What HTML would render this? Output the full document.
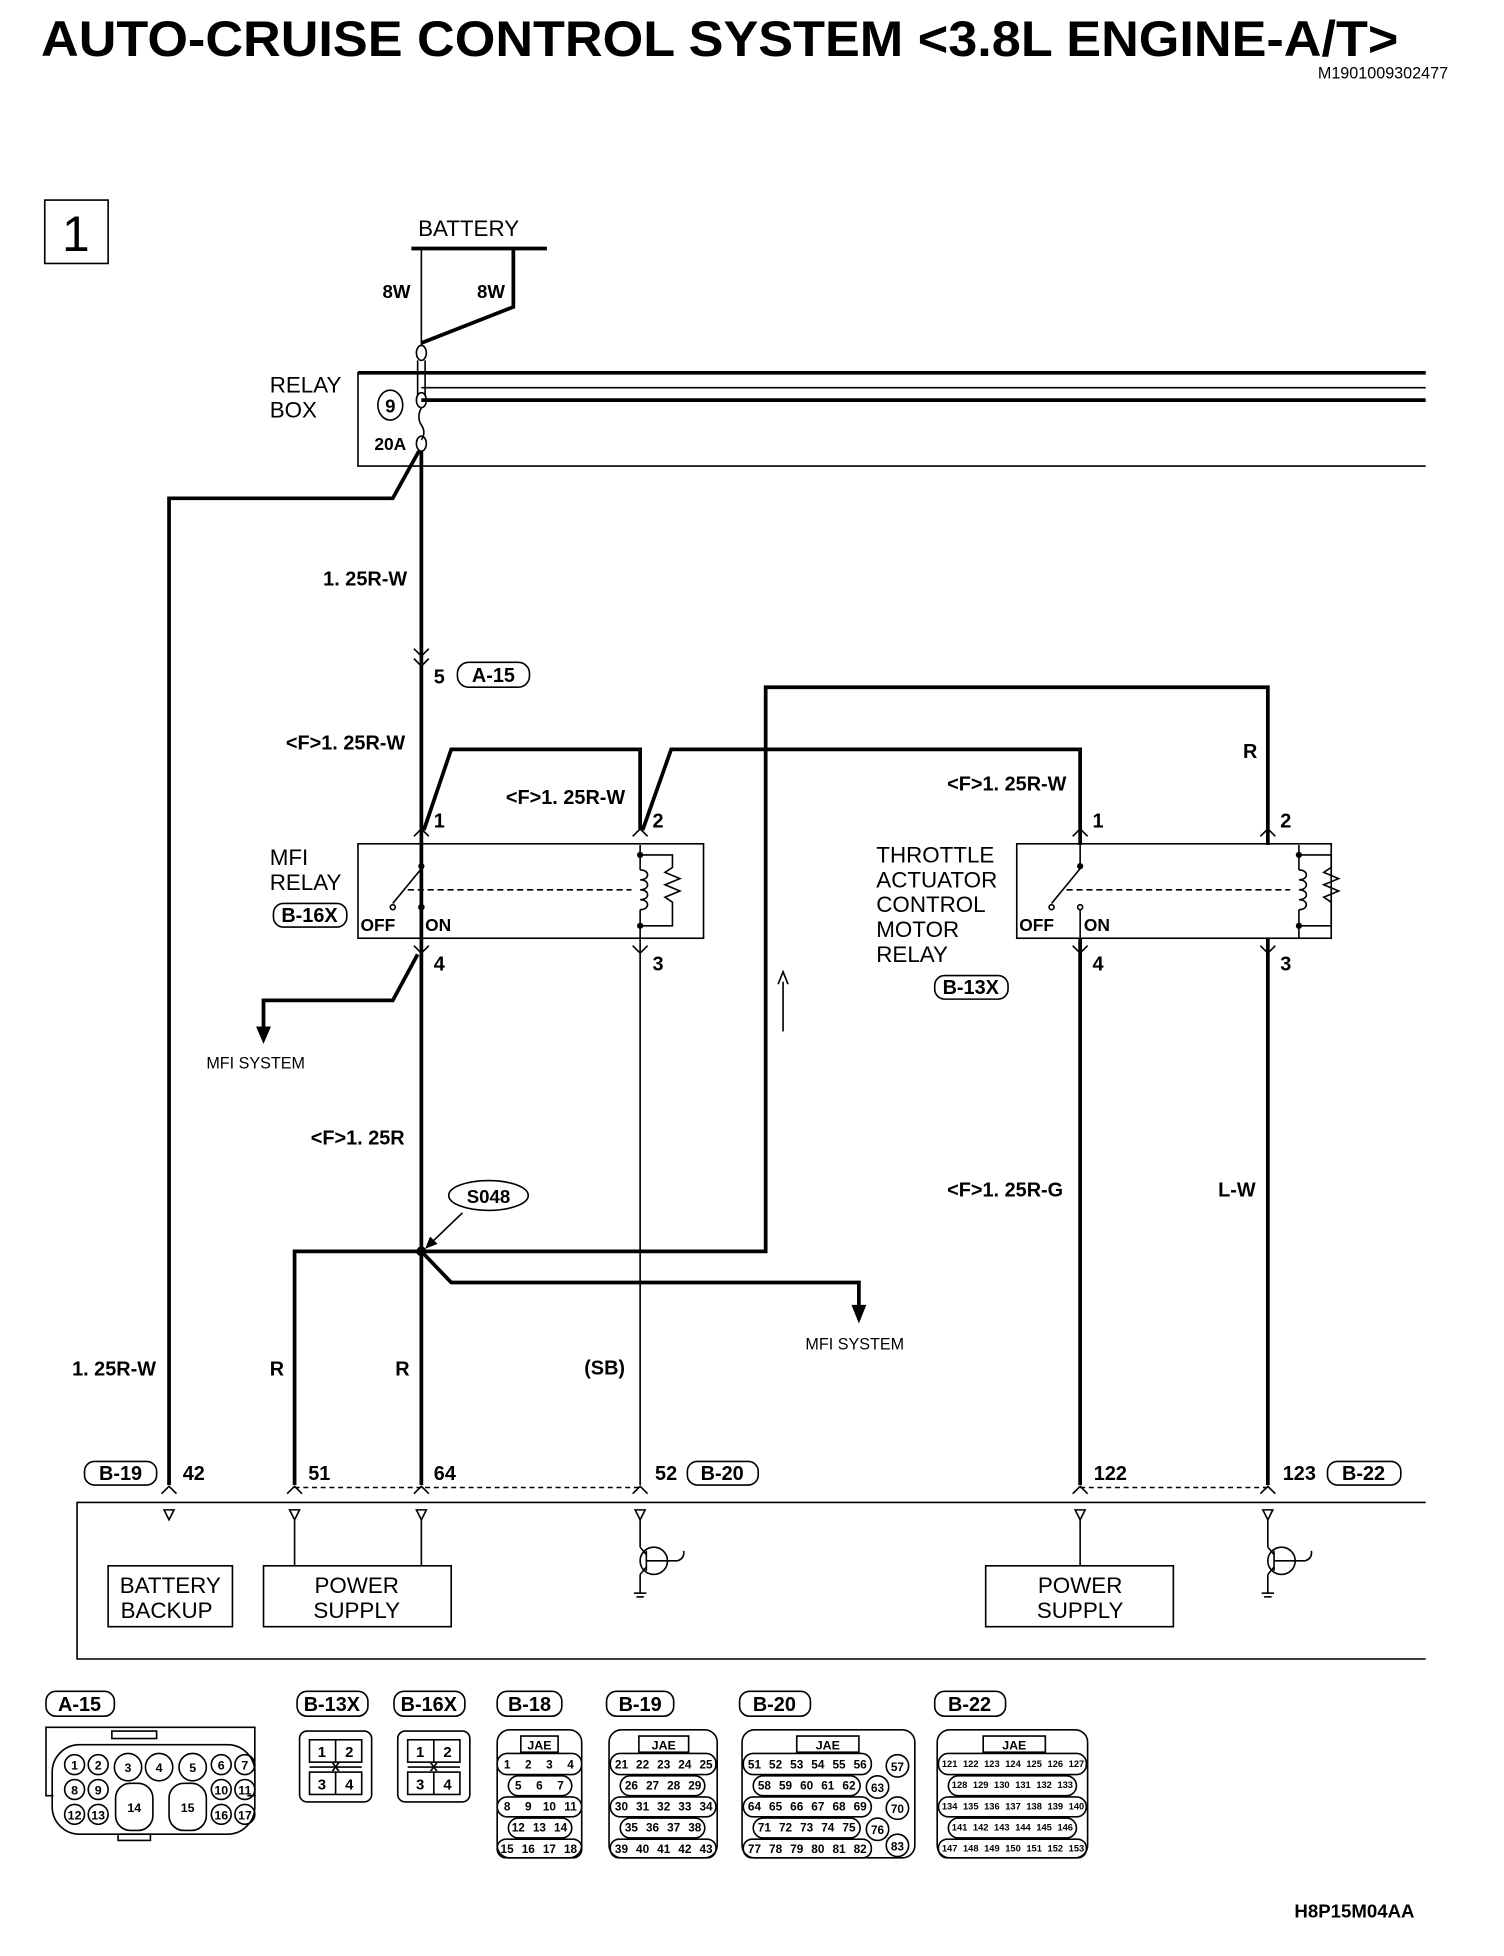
<!DOCTYPE html>
<html><head><meta charset="utf-8">
<style>
html,body{margin:0;padding:0;background:#fff;}
svg{display:block;}
text{font-family:"Liberation Sans Narrow","Liberation Sans",sans-serif;fill:#000;}
.b{font-weight:bold;}
.w{fill:none;stroke:#000;stroke-width:3;}
.t{fill:none;stroke:#000;stroke-width:1.3;}
.p{font-size:10px;font-weight:bold;text-anchor:middle;}
</style></head><body>
<svg width="1504" height="1956" viewBox="0 0 1210 1574" preserveAspectRatio="none" xmlns="http://www.w3.org/2000/svg">
<text x="33" y="45" class="b" style="font-size:40px;font-family:'Liberation Sans',sans-serif" textLength="1092" lengthAdjust="spacingAndGlyphs">AUTO-CRUISE CONTROL SYSTEM &lt;3.8L ENGINE-A/T&gt;</text>
<text x="1165" y="63" style="font-size:13px;text-anchor:end">M1901009302477</text>
<rect x="36" y="161" width="51" height="51" class="t" stroke-width="2"/>
<text x="61" y="202" style="font-size:40px;text-anchor:middle;font-family:'Liberation Sans',sans-serif">1</text>

<text x="377" y="190" style="font-size:18px;text-anchor:middle;font-family:'Liberation Sans',sans-serif">BATTERY</text>
<line x1="331" y1="200" x2="440" y2="200" class="w"/>
<polyline points="339,200 339,278" class="t" stroke-width="2"/>
<polyline points="413,200 413,247 339,276" class="w"/>
<text x="319" y="240" class="b p" style="font-size:15px">8W</text>
<text x="395" y="240" class="b p" style="font-size:15px">8W</text>
<polyline points="1147,300 288,300 288,375 1147,375" class="t" stroke-width="2"/>
<line x1="288" y1="300" x2="1147" y2="300" class="w"/>
<line x1="339" y1="312" x2="1147" y2="312" class="t"/>
<line x1="339" y1="322" x2="1147" y2="322" class="w"/>
<ellipse cx="339" cy="284" rx="4" ry="6" class="t" fill="#fff"/>
<line x1="336" y1="290" x2="336" y2="318" class="t"/><line x1="342" y1="290" x2="342" y2="318" class="t"/>
<ellipse cx="339" cy="322" rx="4" ry="6" class="t" fill="#fff"/>
<path d="M339,328 q-4,8 0,14 q4,6 0,12" class="t"/>
<ellipse cx="339" cy="357" rx="4" ry="6" class="t" fill="#fff"/>
<text x="217" y="316" style="font-size:18px;font-family:'Liberation Sans',sans-serif">RELAY</text>
<text x="217" y="336" style="font-size:18px;font-family:'Liberation Sans',sans-serif">BOX</text>
<ellipse cx="314" cy="326" rx="10" ry="12" class="t" stroke-width="2"/>
<text x="314" y="332" class="b p" style="font-size:15px">9</text>
<text x="314" y="362" class="b p" style="font-size:14px">20A</text>
<polyline points="337,363 316,401 136,401 136,1195" class="w"/>
<line x1="339" y1="363" x2="339" y2="1195" class="w"/>
<text x="260" y="471" class="b" style="font-size:16px">1. 25R-W</text>
<path d="M333,522 l6,6 l6,-6 M333,530 l6,6 l6,-6" class="t"/>
<text x="349" y="550" class="b" style="font-size:16px">5</text>
<rect x="368" y="533" width="58" height="20" rx="9" class="t"/>
<text x="397" y="549" class="b p" style="font-size:16px">A-15</text>
<text x="230" y="603" class="b" style="font-size:16px">&lt;F&gt;1. 25R-W</text>
<polyline points="341,668 363,603 515,603 515,668" class="w"/>
<polyline points="517,668 540,603 869,603 869,680" class="w"/>
<text x="407" y="647" class="b" style="font-size:16px">&lt;F&gt;1. 25R-W</text>
<text x="762" y="636" class="b" style="font-size:16px">&lt;F&gt;1. 25R-W</text>
<polyline points="1020,680 1020,553 616,553 616,1007 237,1007 237,1195" class="w"/>
<text x="1000" y="610" class="b" style="font-size:16px">R</text>
<path d="M333,673 l6,-6 l6,6 M509,673 l6,-6 l6,6 M863,673 l6,-6 l6,6 M1014,673 l6,-6 l6,6" class="t"/>
<text x="349" y="666" class="b" style="font-size:16px">1</text>
<text x="525" y="666" class="b" style="font-size:16px">2</text>
<text x="879" y="666" class="b" style="font-size:16px">1</text>
<text x="1030" y="666" class="b" style="font-size:16px">2</text>
<rect x="288" y="679" width="278" height="76" class="t"/>
<rect x="818" y="679" width="253" height="76" class="t"/>
<g id="rel">
<circle cx="339" cy="697" r="2.5"/>
<line x1="339" y1="697" x2="339" y2="680" class="t"/>
<line x1="316" y1="727" x2="339" y2="699" class="t"/>
<circle cx="316" cy="730" r="2" class="t"/>
<circle cx="339" cy="730" r="2" class="t"/>
<line x1="339" y1="732" x2="339" y2="755" class="t"/>
<line x1="328" y1="716" x2="508" y2="716" class="t" stroke-dasharray="5,3"/>
<circle cx="515" cy="688" r="2.5"/><circle cx="515" cy="745" r="2.5"/>
<line x1="515" y1="680" x2="515" y2="700" class="t"/>
<path d="M515,700 c8,0 8,8 0,8 c8,0 8,8 0,8 c8,0 8,8 0,8 c8,0 8,8 0,8" class="t"/>
<line x1="515" y1="732" x2="515" y2="755" class="t"/>
<polyline points="515,688 541,688 541,698 535,702 547,707 535,712 547,717 535,722 541,726 541,745 515,745" class="t"/>
</g>
<use href="#rel" transform="translate(530,0)"/>
<text x="290" y="749" class="b" style="font-size:14px">OFF</text>
<text x="342" y="749" class="b" style="font-size:14px">ON</text>
<text x="820" y="749" class="b" style="font-size:14px">OFF</text>
<text x="872" y="749" class="b" style="font-size:14px">ON</text>
<text x="217" y="696" style="font-size:18px;font-family:'Liberation Sans',sans-serif">MFI</text>
<text x="217" y="716" style="font-size:18px;font-family:'Liberation Sans',sans-serif">RELAY</text>
<rect x="220" y="727" width="59" height="19" rx="8" class="t"/>
<text x="249" y="742" class="b p" style="font-size:16px">B-16X</text>
<text x="705" y="694" style="font-size:18px;font-family:'Liberation Sans',sans-serif">THROTTLE</text>
<text x="705" y="714" style="font-size:18px;font-family:'Liberation Sans',sans-serif">ACTUATOR</text>
<text x="705" y="734" style="font-size:18px;font-family:'Liberation Sans',sans-serif">CONTROL</text>
<text x="705" y="754" style="font-size:18px;font-family:'Liberation Sans',sans-serif">MOTOR</text>
<text x="705" y="774" style="font-size:18px;font-family:'Liberation Sans',sans-serif">RELAY</text>
<rect x="752" y="785" width="59" height="19" rx="8" class="t"/>
<text x="781" y="800" class="b p" style="font-size:16px">B-13X</text>
<path d="M333,761 l6,6 l6,-6 M509,761 l6,6 l6,-6 M863,761 l6,6 l6,-6 M1014,761 l6,6 l6,-6" class="t"/>
<text x="349" y="781" class="b" style="font-size:16px">4</text>
<text x="525" y="781" class="b" style="font-size:16px">3</text>
<text x="879" y="781" class="b" style="font-size:16px">4</text>
<text x="1030" y="781" class="b" style="font-size:16px">3</text>
<polyline points="336,768 316,805 212,805 212,828" class="w"/>
<polygon points="206,826 218,826 212,840"/>
<text x="166" y="860" style="font-size:13px;font-family:'Liberation Sans',sans-serif">MFI SYSTEM</text>
<line x1="515" y1="755" x2="515" y2="1195" class="t" stroke-width="2"/>
<line x1="869" y1="755" x2="869" y2="1195" class="w"/>
<line x1="1020" y1="755" x2="1020" y2="1195" class="w"/>
<line x1="630" y1="790" x2="630" y2="830" class="t"/>
<path d="M626,792 l4,-10 l4,10" class="t"/>
<text x="250" y="921" class="b" style="font-size:16px">&lt;F&gt;1. 25R</text>
<ellipse cx="393" cy="962" rx="32" ry="12" class="t" stroke-width="2"/>
<text x="393" y="968" class="b p" style="font-size:15px">S048</text>
<line x1="372" y1="976" x2="346" y2="1001" class="t"/>
<polygon points="342,1005 346,995 352,1001"/>
<circle cx="339" cy="1007" r="4"/>
<polyline points="339,1007 363,1032 691,1032 691,1052" class="w"/>
<polygon points="685,1050 697,1050 691,1065"/>
<text x="648" y="1086" style="font-size:13px;font-family:'Liberation Sans',sans-serif">MFI SYSTEM</text>
<text x="762" y="963" class="b" style="font-size:16px">&lt;F&gt;1. 25R-G</text>
<text x="980" y="963" class="b" style="font-size:16px">L-W</text>
<text x="58" y="1107" class="b" style="font-size:16px">1. 25R-W</text>
<text x="217" y="1107" class="b" style="font-size:16px">R</text>
<text x="318" y="1107" class="b" style="font-size:16px">R</text>
<text x="470" y="1106" class="b" style="font-size:16px">(SB)</text>
<rect x="68" y="1176" width="58" height="19" rx="8" class="t"/>
<text x="97" y="1191" class="b p" style="font-size:16px">B-19</text>
<text x="147" y="1191" class="b" style="font-size:16px">42</text>
<text x="248" y="1191" class="b" style="font-size:16px">51</text>
<text x="349" y="1191" class="b" style="font-size:16px">64</text>
<text x="527" y="1191" class="b" style="font-size:16px">52</text>
<rect x="553" y="1176" width="57" height="19" rx="8" class="t"/>
<text x="581" y="1191" class="b p" style="font-size:16px">B-20</text>
<text x="880" y="1191" class="b" style="font-size:16px">122</text>
<text x="1032" y="1191" class="b" style="font-size:16px">123</text>
<rect x="1068" y="1176" width="59" height="19" rx="8" class="t"/>
<text x="1097" y="1191" class="b p" style="font-size:16px">B-22</text>
<line x1="237" y1="1197" x2="515" y2="1197" class="t" stroke-dasharray="4,3"/>
<line x1="869" y1="1197" x2="1020" y2="1197" class="t" stroke-dasharray="4,3"/>
<path d="M130,1202 l6,-6 l6,6 M231,1202 l6,-6 l6,6 M333,1202 l6,-6 l6,6 M509,1202 l6,-6 l6,6 M863,1202 l6,-6 l6,6 M1014,1202 l6,-6 l6,6" class="t"/>
<polyline points="1147,1209 62,1209 62,1335 1147,1335" class="t"/>
<g class="t">
<path d="M132,1215 h8 l-4,8 z M233,1215 h8 l-4,8 z M335,1215 h8 l-4,8 z M511,1215 h8 l-4,8 z M865,1215 h8 l-4,8 z M1016,1215 h8 l-4,8 z"/>
<line x1="237" y1="1223" x2="237" y2="1260"/><line x1="339" y1="1223" x2="339" y2="1260"/><line x1="869" y1="1223" x2="869" y2="1260"/>
<line x1="515" y1="1223" x2="515" y2="1245"/><line x1="1020" y1="1223" x2="1020" y2="1245"/>
</g>
<g id="tr" class="t">
<circle cx="526" cy="1256" r="11"/>
<line x1="520" y1="1248" x2="520" y2="1264"/>
<line x1="515" y1="1245" x2="520" y2="1251"/>
<line x1="520" y1="1261" x2="515" y2="1267"/>
<line x1="515" y1="1267" x2="515" y2="1282"/>
<line x1="510" y1="1282" x2="520" y2="1282"/><line x1="512" y1="1285" x2="518" y2="1285"/>
<line x1="520" y1="1256" x2="545" y2="1256"/>
<path d="M545,1256 q6,-2 5,-8"/>
</g>
<use href="#tr" transform="translate(505,0)"/>
<rect x="87" y="1260" width="100" height="49" class="t"/>
<text x="137" y="1282" style="font-size:18px;text-anchor:middle;font-family:'Liberation Sans',sans-serif">BATTERY</text>
<text x="134" y="1302" style="font-size:18px;text-anchor:middle;font-family:'Liberation Sans',sans-serif">BACKUP</text>
<rect x="212" y="1260" width="151" height="49" class="t"/>
<text x="287" y="1282" style="font-size:18px;text-anchor:middle;font-family:'Liberation Sans',sans-serif">POWER</text>
<text x="287" y="1302" style="font-size:18px;text-anchor:middle;font-family:'Liberation Sans',sans-serif">SUPPLY</text>
<rect x="793" y="1260" width="151" height="49" class="t"/>
<text x="869" y="1282" style="font-size:18px;text-anchor:middle;font-family:'Liberation Sans',sans-serif">POWER</text>
<text x="869" y="1302" style="font-size:18px;text-anchor:middle;font-family:'Liberation Sans',sans-serif">SUPPLY</text>

<g class="t">
<rect x="37" y="1361" width="55" height="20" rx="8"/>
<rect x="239" y="1361" width="57" height="20" rx="8"/>
<rect x="317" y="1361" width="57" height="20" rx="8"/>
<rect x="400" y="1361" width="52" height="20" rx="8"/>
<rect x="488" y="1361" width="54" height="20" rx="8"/>
<rect x="595" y="1361" width="57" height="20" rx="8"/>
<rect x="752" y="1361" width="57" height="20" rx="8"/>
</g>
<text x="64" y="1377" class="b p" style="font-size:16px">A-15</text>
<text x="267" y="1377" class="b p" style="font-size:16px">B-13X</text>
<text x="345" y="1377" class="b p" style="font-size:16px">B-16X</text>
<text x="426" y="1377" class="b p" style="font-size:16px">B-18</text>
<text x="515" y="1377" class="b p" style="font-size:16px">B-19</text>
<text x="623" y="1377" class="b p" style="font-size:16px">B-20</text>
<text x="780" y="1377" class="b p" style="font-size:16px">B-22</text>

<g class="t" stroke-width="2">
<polyline points="43,1445 37,1445 37,1390 205,1390 205,1445 199,1445"/>
<rect x="42" y="1404" width="163" height="72" rx="22"/>
<rect x="90" y="1393" width="36" height="6"/>
<rect x="95" y="1476" width="26" height="5"/>
</g>
<g class="t">
<circle cx="60" cy="1420" r="8"/><circle cx="79" cy="1420" r="8"/><circle cx="103" cy="1422" r="11"/><circle cx="128" cy="1422" r="11"/><circle cx="155" cy="1422" r="11"/><circle cx="178" cy="1420" r="8"/><circle cx="197" cy="1420" r="8"/>
<circle cx="60" cy="1440" r="8"/><circle cx="79" cy="1440" r="8"/><circle cx="178" cy="1440" r="8"/><circle cx="197" cy="1440" r="8"/>
<circle cx="60" cy="1460" r="8"/><circle cx="79" cy="1460" r="8"/><circle cx="178" cy="1460" r="8"/><circle cx="197" cy="1460" r="8"/>
<rect x="93" y="1435" width="30" height="38" rx="12"/><rect x="136" y="1435" width="30" height="38" rx="12"/>
</g>
<g class="p">
<text x="60" y="1424">1</text><text x="79" y="1424">2</text><text x="103" y="1426">3</text><text x="128" y="1426">4</text><text x="155" y="1426">5</text><text x="178" y="1424">6</text><text x="197" y="1424">7</text>
<text x="60" y="1444">8</text><text x="79" y="1444">9</text><text x="178" y="1444">10</text><text x="197" y="1444">11</text>
<text x="60" y="1464">12</text><text x="79" y="1464">13</text><text x="178" y="1464">16</text><text x="197" y="1464">17</text>
<text x="108" y="1458">14</text><text x="151" y="1458">15</text>
</g>
<g class="t" stroke-width="2">
<rect x="241" y="1393" width="58" height="57" rx="6"/>
<rect x="320" y="1393" width="58" height="57" rx="6"/>
</g>
<g class="t">
<rect x="249" y="1400" width="42" height="18"/><line x1="270" y1="1400" x2="270" y2="1418"/>
<rect x="249" y="1426" width="42" height="18"/><line x1="270" y1="1426" x2="270" y2="1444"/>
<line x1="249" y1="1422" x2="291" y2="1422"/>
<rect x="328" y="1400" width="42" height="18"/><line x1="349" y1="1400" x2="349" y2="1418"/>
<rect x="328" y="1426" width="42" height="18"/><line x1="349" y1="1426" x2="349" y2="1444"/>
<line x1="328" y1="1422" x2="370" y2="1422"/>
</g>
<g class="p" style="font-size:12px">
<text x="259" y="1414">1</text><text x="281" y="1414">2</text><text x="270" y="1425">x</text><text x="259" y="1440">3</text><text x="281" y="1440">4</text>
<text x="338" y="1414">1</text><text x="360" y="1414">2</text><text x="349" y="1425">x</text><text x="338" y="1440">3</text><text x="360" y="1440">4</text>
</g>
<g class="t" stroke-width="2">
<rect x="400" y="1392" width="68" height="103" rx="10"/>
<rect x="490" y="1392" width="87" height="103" rx="10"/>
<rect x="597" y="1392" width="139" height="103" rx="10"/>
<rect x="754" y="1392" width="121" height="103" rx="10"/>
</g>
<g class="t">
<rect x="419" y="1397" width="30" height="13"/>
<rect x="514" y="1397" width="40" height="13"/>
<rect x="641" y="1397" width="50" height="13"/>
<rect x="791" y="1397" width="50" height="13"/>
<!-- pin row outlines -->
<rect x="400" y="1411" width="68" height="17" rx="8"/><rect x="409" y="1429" width="51" height="16" rx="8"/><rect x="400" y="1446" width="68" height="16" rx="8"/><rect x="409" y="1463" width="51" height="16" rx="8"/><rect x="400" y="1480" width="68" height="15" rx="7"/>
<rect x="491" y="1411" width="85" height="17" rx="8"/><rect x="499" y="1429" width="68" height="16" rx="8"/><rect x="491" y="1446" width="85" height="16" rx="8"/><rect x="499" y="1463" width="68" height="16" rx="8"/><rect x="491" y="1480" width="85" height="15" rx="7"/>
<rect x="598" y="1411" width="103" height="17" rx="8"/><rect x="606" y="1429" width="86" height="16" rx="8"/><rect x="598" y="1446" width="103" height="16" rx="8"/><rect x="606" y="1463" width="86" height="16" rx="8"/><rect x="598" y="1480" width="103" height="15" rx="7"/>
<rect x="755" y="1411" width="119" height="17" rx="8"/><rect x="763" y="1429" width="103" height="16" rx="8"/><rect x="755" y="1446" width="119" height="16" rx="8"/><rect x="763" y="1463" width="103" height="16" rx="8"/><rect x="755" y="1480" width="119" height="15" rx="7"/>
<circle cx="722" cy="1421" r="9"/><circle cx="706" cy="1438" r="9"/><circle cx="722" cy="1455" r="9"/><circle cx="706" cy="1472" r="9"/><circle cx="722" cy="1485" r="9"/>
</g>
<g class="p" style="font-size:10px">
<text x="434" y="1408">JAE</text><text x="534" y="1408">JAE</text><text x="666" y="1408">JAE</text><text x="816" y="1408">JAE</text>
</g>
<g class="p" style="font-size:9.5px;font-weight:bold">
<text x="408" y="1423">1</text><text x="425" y="1423">2</text><text x="442" y="1423">3</text><text x="459" y="1423">4</text>
<text x="417" y="1440">5</text><text x="434" y="1440">6</text><text x="451" y="1440">7</text>
<text x="408" y="1457">8</text><text x="425" y="1457">9</text><text x="442" y="1457">10</text><text x="459" y="1457">11</text>
<text x="417" y="1474">12</text><text x="434" y="1474">13</text><text x="451" y="1474">14</text>
<text x="408" y="1491">15</text><text x="425" y="1491">16</text><text x="442" y="1491">17</text><text x="459" y="1491">18</text>
<text x="500" y="1423">21</text><text x="517" y="1423">22</text><text x="534" y="1423">23</text><text x="551" y="1423">24</text><text x="568" y="1423">25</text>
<text x="508" y="1440">26</text><text x="525" y="1440">27</text><text x="542" y="1440">28</text><text x="559" y="1440">29</text>
<text x="500" y="1457">30</text><text x="517" y="1457">31</text><text x="534" y="1457">32</text><text x="551" y="1457">33</text><text x="568" y="1457">34</text>
<text x="508" y="1474">35</text><text x="525" y="1474">36</text><text x="542" y="1474">37</text><text x="559" y="1474">38</text>
<text x="500" y="1491">39</text><text x="517" y="1491">40</text><text x="534" y="1491">41</text><text x="551" y="1491">42</text><text x="568" y="1491">43</text>
<text x="607" y="1423">51</text><text x="624" y="1423">52</text><text x="641" y="1423">53</text><text x="658" y="1423">54</text><text x="675" y="1423">55</text><text x="692" y="1423">56</text><text x="722" y="1425">57</text>
<text x="615" y="1440">58</text><text x="632" y="1440">59</text><text x="649" y="1440">60</text><text x="666" y="1440">61</text><text x="683" y="1440">62</text><text x="706" y="1442">63</text>
<text x="607" y="1457">64</text><text x="624" y="1457">65</text><text x="641" y="1457">66</text><text x="658" y="1457">67</text><text x="675" y="1457">68</text><text x="692" y="1457">69</text><text x="722" y="1459">70</text>
<text x="615" y="1474">71</text><text x="632" y="1474">72</text><text x="649" y="1474">73</text><text x="666" y="1474">74</text><text x="683" y="1474">75</text><text x="706" y="1476">76</text>
<text x="607" y="1491">77</text><text x="624" y="1491">78</text><text x="641" y="1491">79</text><text x="658" y="1491">80</text><text x="675" y="1491">81</text><text x="692" y="1491">82</text><text x="722" y="1489">83</text>
</g>
<g class="p" style="font-size:7.5px;font-weight:bold">
<text x="764" y="1422">121</text><text x="781" y="1422">122</text><text x="798" y="1422">123</text><text x="815" y="1422">124</text><text x="832" y="1422">125</text><text x="849" y="1422">126</text><text x="866" y="1422">127</text>
<text x="772" y="1439">128</text><text x="789" y="1439">129</text><text x="806" y="1439">130</text><text x="823" y="1439">131</text><text x="840" y="1439">132</text><text x="857" y="1439">133</text>
<text x="764" y="1456">134</text><text x="781" y="1456">135</text><text x="798" y="1456">136</text><text x="815" y="1456">137</text><text x="832" y="1456">138</text><text x="849" y="1456">139</text><text x="866" y="1456">140</text>
<text x="772" y="1473">141</text><text x="789" y="1473">142</text><text x="806" y="1473">143</text><text x="823" y="1473">144</text><text x="840" y="1473">145</text><text x="857" y="1473">146</text>
<text x="764" y="1490">147</text><text x="781" y="1490">148</text><text x="798" y="1490">149</text><text x="815" y="1490">150</text><text x="832" y="1490">151</text><text x="849" y="1490">152</text><text x="866" y="1490">153</text>
</g>
<text x="1138" y="1543" class="b" style="font-size:15px;text-anchor:end">H8P15M04AA</text>
</svg>
</body></html>
